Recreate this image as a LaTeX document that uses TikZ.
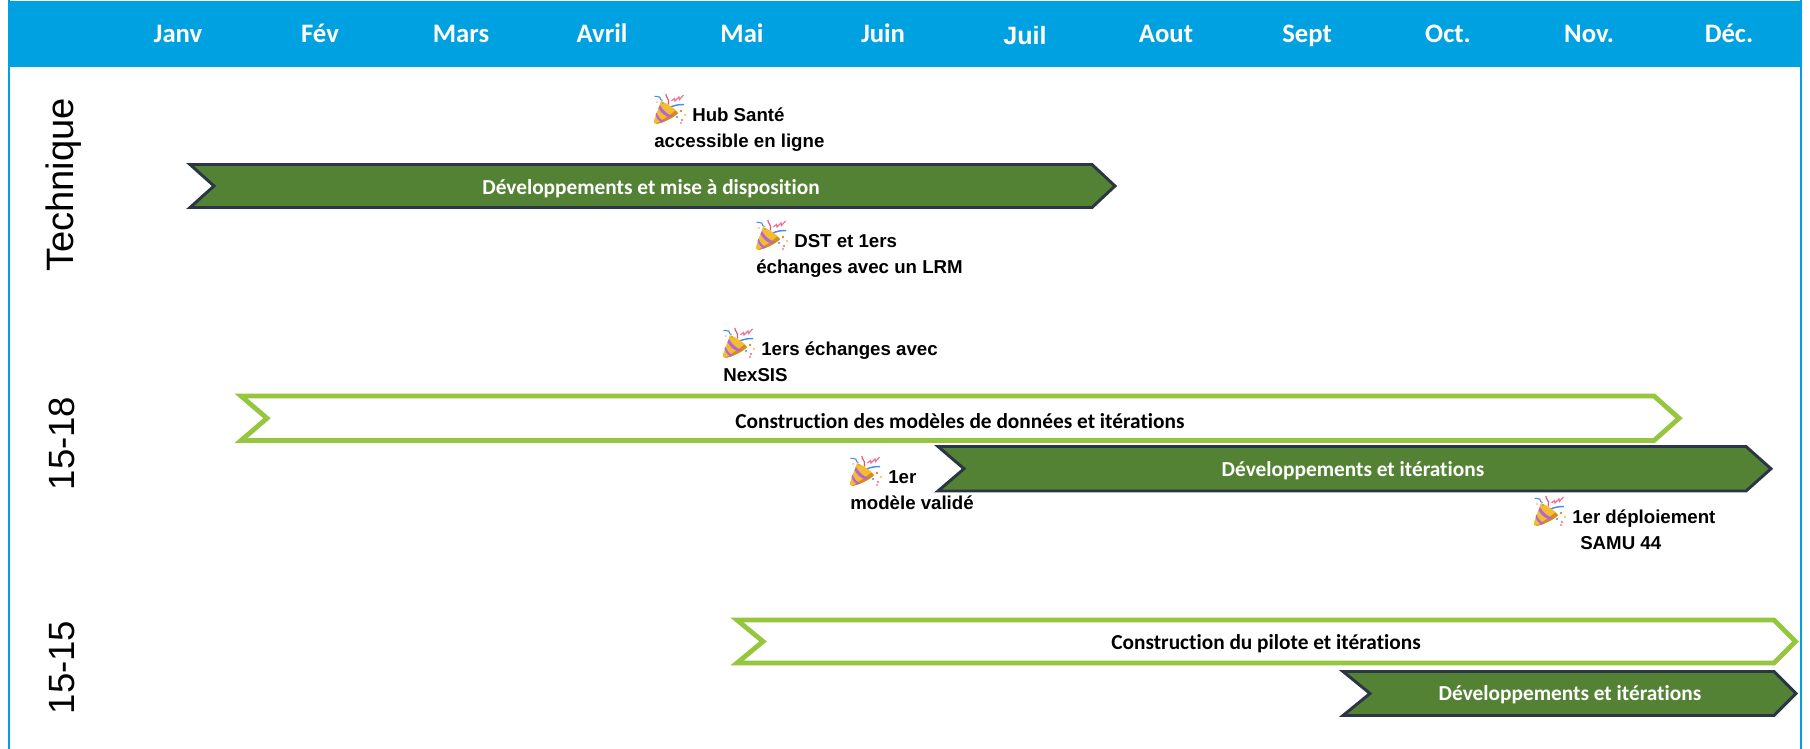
\documentclass[tikz,border=0pt]{standalone}
\usepackage{fontspec}
\setmainfont{Liberation Sans}
\newfontfamily\carlito[Ligatures=NoCommon]{Carlito}
\definecolor{headblue}{HTML}{00A1E0}
\definecolor{darkgreen}{HTML}{548235}
\definecolor{edgedark}{HTML}{2B3543}
\definecolor{lightgreen}{HTML}{95C63D}
\definecolor{popgold}{HTML}{F2BE30}
\definecolor{popshade}{HTML}{D88A1E}
\definecolor{poppurple}{HTML}{B565D8}
\definecolor{popblue}{HTML}{4A8BF0}
\definecolor{popred}{HTML}{E8507A}
\tikzset{
  month/.style={anchor=base,text=white,font=\carlito\bfseries\fontsize{20}{24}\selectfont,inner sep=0pt},
  monthalt/.style={anchor=base,text=white,font=\bfseries\fontsize{18.8}{24}\selectfont,inner sep=0pt},
  rowlabel/.style={rotate=90,text=black,font=\fontsize{27.4}{32}\selectfont,inner sep=0pt},
  rowlabellong/.style={rotate=90,text=black,font=\fontsize{28.6}{32}\selectfont,inner sep=0pt},
  darkbar/.style={fill=darkgreen,draw=edgedark,line width=2.2pt,miter limit=10},
  lightbar/.style={fill=white,draw=lightgreen,line width=3.6pt,miter limit=10},
  darklabel/.style={text=white,font=\carlito\bfseries\fontsize{16}{18}\selectfont,inner sep=0pt},
  lightlabel/.style={text=black,font=\carlito\bfseries\fontsize{16}{18}\selectfont,inner sep=0pt},
  callout/.style={anchor=north west,align=left,text=black,inner sep=0pt,font=\bfseries\fontsize{14}{19.5}\selectfont},
  popper/.pic={
    \draw[color=popblue,line width=.8pt] (0.5,2.5) .. controls (3,0.5) and (3,4) .. (5,3) .. controls (7,2) and (5,6) .. (8.5,6.5);
    \draw[color=popred,line width=.9pt] (12,0) .. controls (11,3) and (16,4) .. (14.5,10.5);
    \draw[color=popred!80,line width=.9pt] (17.5,7) -- (20.5,4.5) -- (21,7) -- (25,3) -- (25.5,5.5) -- (29.5,1);
    \draw[color=popblue,line width=1.1pt] (15,14) .. controls (20,11) and (25,10.5) .. (30,10.5);
    \fill[color=popgold] (7,7) .. controls (12,9) and (22,15) .. (24,19) .. controls (20,24) and (8,29) .. (2,30) .. controls (0,30) and (-0.5,28) .. (0,26.5) -- cycle;
    \fill[color=popshade] (24,19) .. controls (20,24) and (8,29) .. (2,30) .. controls (8,26) and (17,21) .. (21,16.5) -- cycle;
    \fill[color=poppurple] (4.5,14) .. controls (7,19) and (11,22) .. (15.5,23.5) -- (18.5,22) .. controls (13,20) and (9,16.5) .. (6,11) -- cycle;
    \fill[color=poppurple] (1.5,21) .. controls (3,25) and (5,27) .. (7.5,28.6) -- (10.5,27.4) .. controls (7,26) and (4,23) .. (2.5,18.5) -- cycle;
    \fill[color=popshade] (9,9) circle (.6pt);
    \fill[color=popshade] (27,17) circle (1pt);
    \fill[color=popblue] (23,23) circle (.8pt);
    \fill[color=popred!70] (28,26) circle (1pt);
    \fill[color=popgold] (31,21) circle (.8pt);
    \fill[color=popred!60] (3,8) circle (.6pt);
    \fill[color=popred!70] (27,29) circle (.9pt);
  }
}
% style, left, notch, body end, tip, top, bottom
\newcommand{\ribbon}[7]{%
  \path[#1] (#2,#6) -- (#4,#6) -- (#5,{(#6+#7)/2}) -- (#4,#7) -- (#2,#7) -- (#3,{(#6+#7)/2}) -- cycle;}
\begin{document}
\begin{tikzpicture}[x=0.75pt,y=-0.75pt]
\useasboundingbox (0,0) rectangle (1810,749);
\fill[white] (0,0) rectangle (1810,749);
% frame and header
\fill[headblue] (8,0) rectangle (10,749);
\fill[headblue] (1799.7,0) rectangle (1801.7,749);
\fill[headblue] (8,1.5) rectangle (1801.7,67);
% months
\node[month] (m1) at (178,43) {Janv};
\node[month] (m2) at (320,43) {Fév};
\node[month] (m3) at (461,43) {Mars};
\node[month] (m4) at (602,43) {Avril};
\node[month] (m5) at (742,43) {Mai};
\node[month] (m6) at (883,43) {Juin};
\node[monthalt] (m7) at (1025,44.5) {Juil};
\node[month] (m8) at (1166,43) {Aout};
\node[month] (m9) at (1307,43) {Sept};
\node[month] (m10) at (1448,43) {Oct.};
\node[month] (m11) at (1589,43) {Nov.};
\node[month] (m12) at (1729,43) {Déc.};
% row labels
\node[rowlabellong] (r1) at (64,185) {Technique};
\node[rowlabel] (r2) at (62,443.5) {15-18};
\node[rowlabel] (r3) at (62,667.5) {15-15};
% bars
\ribbon{darkbar}{190}{214}{1092}{1115}{164.5}{207.5}
\ribbon{lightbar}{241}{267}{1654}{1679}{396}{440.5}
\ribbon{darkbar}{938}{964}{1746}{1771}{446.5}{491}
\ribbon{lightbar}{737}{763}{1774}{1795.5}{620}{663}
\ribbon{darkbar}{1343}{1370}{1774}{1796}{671.5}{715.5}
\node[darklabel] (b1) at (651,189) {Développements et mise à disposition};
\node[lightlabel] (b2) at (960,421) {Construction des modèles de données et itérations};
\node[darklabel] (b3) at (1353,471) {Développements et itérations};
\node[lightlabel] (b4) at (1266,644) {Construction du pilote et itérations};
\node[darklabel] (b5) at (1570,695) {Développements et itérations};
% callouts
\pic at (654,94) {popper};
\node[callout] (c1) at (654,108) {\hspace{28.5pt}Hub Santé\\accessible en ligne};
\pic at (756,220) {popper};
\node[callout] (c2) at (756,234) {\hspace{28.5pt}DST et 1ers\\échanges avec un LRM};
\pic at (723,328) {popper};
\node[callout] (c3) at (723,342) {\hspace{28.5pt}1ers échanges avec\\NexSIS};
\pic at (850,456) {popper};
\node[callout] (c4) at (850,470) {\hspace{28.5pt}1er\\modèle validé};
\pic at (1534,496) {popper};
\node[callout] (c5) at (1534,510) {\hspace{28.5pt}1er déploiement\\\hspace{34.5pt}SAMU 44};
\end{tikzpicture}
\end{document}
